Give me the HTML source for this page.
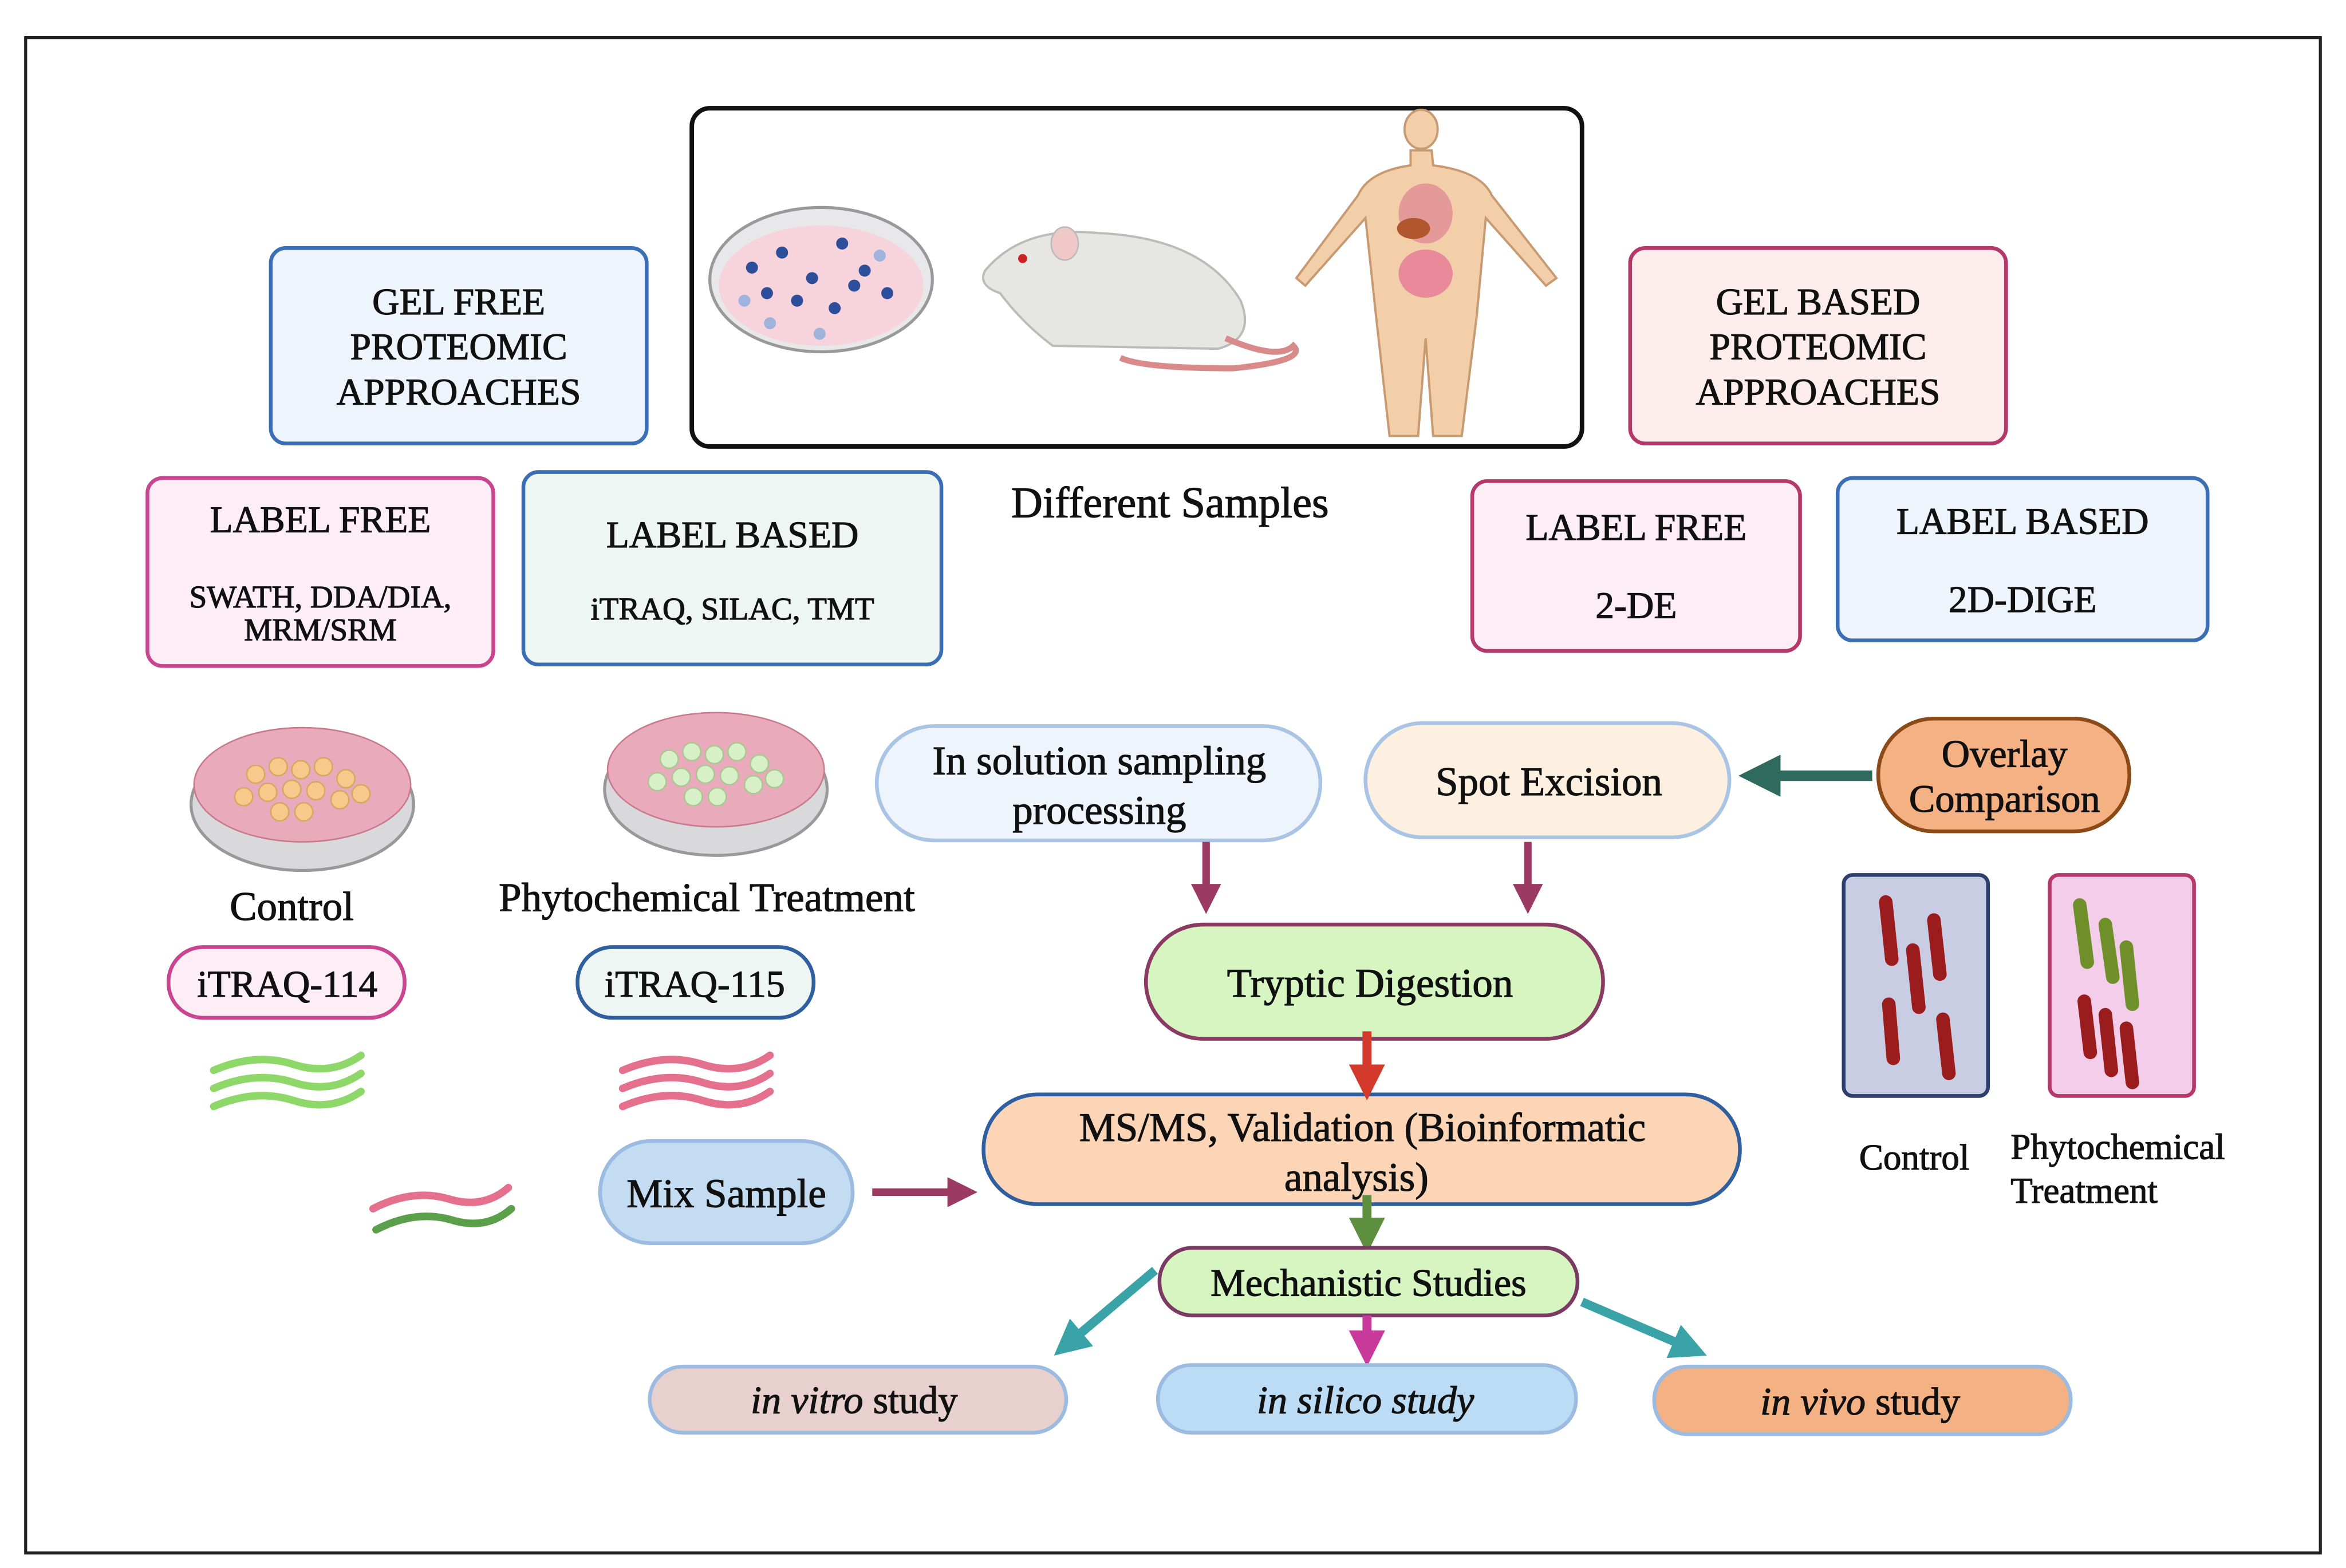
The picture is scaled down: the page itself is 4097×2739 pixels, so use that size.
<!DOCTYPE html>
<html><head><meta charset="utf-8"><style>
html,body{margin:0;padding:0;background:#fff;}
svg{display:block;}
text{font-family:"Liberation Serif",serif;fill:#111;stroke:#111;stroke-width:0.45;}
</style></head><body>
<svg width="4097" height="2739" viewBox="0 0 1560 1043" xmlns="http://www.w3.org/2000/svg">
<defs>
<marker id="a1" markerWidth="4" markerHeight="4" refX="2" refY="2" orient="auto" markerUnits="strokeWidth"><path d="M0,0 L4,2 L0,4 z" fill="#9b3a63"/></marker>
<marker id="a2" markerWidth="4" markerHeight="4" refX="2" refY="2" orient="auto" markerUnits="strokeWidth"><path d="M0,0 L4,2 L0,4 z" fill="#2e6b5e"/></marker>
<marker id="a3" markerWidth="4" markerHeight="4" refX="2" refY="2" orient="auto" markerUnits="strokeWidth"><path d="M0,0 L4,2 L0,4 z" fill="#d33a2c"/></marker>
<marker id="a4" markerWidth="4" markerHeight="4" refX="2" refY="2" orient="auto" markerUnits="strokeWidth"><path d="M0,0 L4,2 L0,4 z" fill="#5e8f3e"/></marker>
<marker id="a5" markerWidth="4" markerHeight="4" refX="2" refY="2" orient="auto" markerUnits="strokeWidth"><path d="M0,0 L4,2 L0,4 z" fill="#3aa3a8"/></marker>
<marker id="a6" markerWidth="4" markerHeight="4" refX="2" refY="2" orient="auto" markerUnits="strokeWidth"><path d="M0,0 L4,2 L0,4 z" fill="#c83a9a"/></marker>
</defs>
<rect x="0" y="0" width="1560" height="1043" fill="#fff"/>
<rect x="17" y="25" width="1526" height="1008" fill="none" stroke="#222" stroke-width="2"/>

<rect x="460" y="72" width="592" height="225" rx="12" fill="#fff" stroke="#111" stroke-width="3"/>
<ellipse cx="546" cy="186" rx="74" ry="48" fill="#e8e8ea" stroke="#999" stroke-width="2"/>
<ellipse cx="546" cy="190" rx="68" ry="40" fill="#f7d4dc"/>
<g fill="#2d4e9a">
<circle cx="500" cy="178" r="4"/><circle cx="520" cy="168" r="4"/><circle cx="540" cy="185" r="4"/><circle cx="560" cy="162" r="4"/><circle cx="575" cy="180" r="4"/><circle cx="530" cy="200" r="4"/><circle cx="555" cy="205" r="4"/><circle cx="590" cy="195" r="4"/><circle cx="510" cy="195" r="4"/><circle cx="568" cy="190" r="4"/>
</g>
<g fill="#9fb3dd"><circle cx="495" cy="200" r="4"/><circle cx="585" cy="170" r="4"/><circle cx="545" cy="222" r="4"/><circle cx="512" cy="215" r="4"/></g>
<path d="M655,180 Q680,150 730,155 Q800,158 825,200 Q835,225 810,232 L700,230 Q680,215 665,195 Q650,190 655,180 z" fill="#e6e6e3" stroke="#bbb" stroke-width="1.5"/>
<ellipse cx="708" cy="162" rx="9" ry="11" fill="#f0c8c8" stroke="#bbb"/>
<circle cx="680" cy="172" r="3" fill="#c22"/>
<path d="M815,225 Q850,240 860,230 Q870,240 820,245 Q760,245 745,238" fill="none" stroke="#d98b8b" stroke-width="4"/>
<g fill="#f2cfa8" stroke="#c79a72" stroke-width="1.5">
<ellipse cx="945" cy="86" rx="11" ry="13"/>
<path d="M938,100 L952,100 L953,110 Q985,114 992,130 L1035,185 L1028,190 L988,145 L982,210 L972,290 L953,290 L948,225 L943,290 L924,290 L915,210 L908,145 L868,190 L862,185 L903,130 Q910,114 938,110 z"/>
</g>
<ellipse cx="948" cy="142" rx="18" ry="20" fill="#e59a9a"/>
<ellipse cx="948" cy="182" rx="18" ry="16" fill="#e88a9a"/>
<ellipse cx="940" cy="152" rx="11" ry="7" fill="#b2562f"/>

<rect x="180" y="165" width="250" height="130" rx="10" fill="#eef4fb" stroke="#3a6fb5" stroke-width="2.5"/>
<text x="305" y="209" font-size="25" text-anchor="middle">GEL FREE</text>
<text x="305" y="239" font-size="25" text-anchor="middle">PROTEOMIC</text>
<text x="305" y="269" font-size="25" text-anchor="middle">APPROACHES</text>
<rect x="1084" y="165" width="250" height="130" rx="10" fill="#fcecec" stroke="#b5386b" stroke-width="2.5"/>
<text x="1209" y="209" font-size="25" text-anchor="middle">GEL BASED</text>
<text x="1209" y="239" font-size="25" text-anchor="middle">PROTEOMIC</text>
<text x="1209" y="269" font-size="25" text-anchor="middle">APPROACHES</text>

<rect x="98" y="318" width="230" height="125" rx="10" fill="#fdeef5" stroke="#c9458f" stroke-width="2.5"/>
<text x="213" y="354" font-size="25" text-anchor="middle">LABEL FREE</text>
<text x="213" y="404" font-size="21" text-anchor="middle">SWATH, DDA/DIA,</text>
<text x="213" y="426" font-size="21" text-anchor="middle">MRM/SRM</text>
<rect x="348" y="314" width="278" height="128" rx="10" fill="#eef6f4" stroke="#3a6fb5" stroke-width="2.5"/>
<text x="487" y="364" font-size="25" text-anchor="middle">LABEL BASED</text>
<text x="487" y="412" font-size="21" text-anchor="middle">iTRAQ, SILAC, TMT</text>
<text x="778" y="344" font-size="29" text-anchor="middle">Different Samples</text>
<rect x="979" y="320" width="218" height="113" rx="10" fill="#fdeef5" stroke="#b5386b" stroke-width="2.5"/>
<text x="1088" y="359" font-size="25" text-anchor="middle">LABEL FREE</text>
<text x="1088" y="411" font-size="25" text-anchor="middle">2-DE</text>
<rect x="1222" y="318" width="246" height="108" rx="10" fill="#eef4fb" stroke="#3a6fb5" stroke-width="2.5"/>
<text x="1345" y="355" font-size="25" text-anchor="middle">LABEL BASED</text>
<text x="1345" y="407" font-size="25" text-anchor="middle">2D-DIGE</text>

<g>
<ellipse cx="201" cy="535" rx="74" ry="44" fill="#d9d9dc" stroke="#999" stroke-width="2"/>
<ellipse cx="201" cy="522" rx="72" ry="38" fill="#e9aabb" stroke="#c97a8d"/>
<g fill="#f7c98a" stroke="#d9a860"><circle cx="170" cy="515" r="6"/><circle cx="185" cy="510" r="6"/><circle cx="200" cy="512" r="6"/><circle cx="215" cy="510" r="6"/><circle cx="230" cy="518" r="6"/><circle cx="178" cy="527" r="6"/><circle cx="194" cy="525" r="6"/><circle cx="210" cy="526" r="6"/><circle cx="226" cy="532" r="6"/><circle cx="186" cy="540" r="6"/><circle cx="202" cy="540" r="6"/><circle cx="240" cy="528" r="6"/><circle cx="162" cy="530" r="6"/></g>
</g>
<g>
<ellipse cx="476" cy="525" rx="74" ry="44" fill="#d9d9dc" stroke="#999" stroke-width="2"/>
<ellipse cx="476" cy="512" rx="72" ry="38" fill="#e9aabb" stroke="#c97a8d"/>
<g fill="#d8f0c8" stroke="#a8c890"><circle cx="445" cy="505" r="6"/><circle cx="460" cy="500" r="6"/><circle cx="475" cy="502" r="6"/><circle cx="490" cy="500" r="6"/><circle cx="505" cy="508" r="6"/><circle cx="453" cy="517" r="6"/><circle cx="469" cy="515" r="6"/><circle cx="485" cy="516" r="6"/><circle cx="501" cy="522" r="6"/><circle cx="461" cy="530" r="6"/><circle cx="477" cy="530" r="6"/><circle cx="515" cy="518" r="6"/><circle cx="437" cy="520" r="6"/></g>
</g>
<text x="194" y="612" font-size="27" text-anchor="middle">Control</text>
<text x="470" y="606" font-size="27" text-anchor="middle">Phytochemical Treatment</text>
<rect x="112" y="630" width="157" height="47" rx="23" fill="#fdeef5" stroke="#c9458f" stroke-width="2.5"/>
<text x="191" y="663" font-size="25" text-anchor="middle">iTRAQ-114</text>
<rect x="384" y="630" width="157" height="47" rx="23" fill="#eef6f4" stroke="#2f5f9e" stroke-width="2.5"/>
<text x="462" y="663" font-size="25" text-anchor="middle">iTRAQ-115</text>

<g fill="none" stroke-width="5" stroke-linecap="round">
<path d="M142,712 Q170,700 195,708 Q220,716 240,702" stroke="#8ed86a"/>
<path d="M142,724 Q170,712 195,720 Q220,728 240,714" stroke="#8ed86a"/>
<path d="M142,736 Q170,724 195,732 Q220,740 240,726" stroke="#8ed86a"/>
<path d="M414,712 Q442,700 467,708 Q492,716 512,702" stroke="#e5708e"/>
<path d="M414,724 Q442,712 467,720 Q492,728 512,714" stroke="#e5708e"/>
<path d="M414,736 Q442,724 467,732 Q492,740 512,726" stroke="#e5708e"/>
<path d="M248,804 Q275,790 300,798 Q322,804 338,790" stroke="#e5708e"/>
<path d="M250,818 Q277,804 302,812 Q324,818 340,804" stroke="#5aa04a"/>
</g>
<rect x="399" y="759" width="168" height="68" rx="34" fill="#c3dcf2" stroke="#9cbbe0" stroke-width="2.5"/>
<text x="483" y="803" font-size="27" text-anchor="middle">Mix Sample</text>
<line x1="580" y1="793" x2="640" y2="793" stroke="#9b3a63" stroke-width="5" marker-end="url(#a1)"/>

<rect x="583" y="483" width="295" height="76" rx="38" fill="#eef4fb" stroke="#a9c4e4" stroke-width="2.5"/>
<text x="731" y="515" font-size="27" text-anchor="middle">In solution sampling</text>
<text x="731" y="548" font-size="27" text-anchor="middle">processing</text>
<rect x="908" y="481" width="242" height="76" rx="38" fill="#fdf0e0" stroke="#a9c4e4" stroke-width="2.5"/>
<text x="1030" y="529" font-size="27" text-anchor="middle">Spot Excision</text>
<rect x="1249" y="478" width="167" height="75" rx="37" fill="#f4b183" stroke="#8b4a16" stroke-width="2.5"/>
<text x="1333" y="510" font-size="26" text-anchor="middle">Overlay</text>
<text x="1333" y="540" font-size="26" text-anchor="middle">Comparison</text>
<line x1="1245" y1="516" x2="1170" y2="516" stroke="#2e6b5e" stroke-width="7" marker-end="url(#a2)"/>
<line x1="802" y1="560" x2="802" y2="598" stroke="#9b3a63" stroke-width="5" marker-end="url(#a1)"/>
<line x1="1016" y1="560" x2="1016" y2="598" stroke="#9b3a63" stroke-width="5" marker-end="url(#a1)"/>
<rect x="762" y="615" width="304" height="76" rx="38" fill="#d6f5c0" stroke="#8a3a63" stroke-width="2.5"/>
<text x="911" y="663" font-size="27" text-anchor="middle">Tryptic Digestion</text>
<rect x="654" y="728" width="503" height="73" rx="36" fill="#fbd5b5" stroke="#2f5f9e" stroke-width="2.5"/>
<line x1="909" y1="686" x2="909" y2="720" stroke="#d33a2c" stroke-width="6" marker-end="url(#a3)"/>
<text x="906" y="759" font-size="27" text-anchor="middle">MS/MS, Validation (Bioinformatic</text>
<text x="902" y="792" font-size="27" text-anchor="middle">analysis)</text>
<line x1="909" y1="795" x2="909" y2="822" stroke="#5e8f3e" stroke-width="6" marker-end="url(#a4)"/>
<rect x="771" y="830" width="278" height="45" rx="22" fill="#d6f5c0" stroke="#7a3a63" stroke-width="2.5"/>
<text x="910" y="862" font-size="26" text-anchor="middle">Mechanistic Studies</text>
<line x1="768" y1="845" x2="710" y2="894" stroke="#3aa3a8" stroke-width="6" marker-end="url(#a5)"/>
<line x1="909" y1="875" x2="909" y2="897" stroke="#c83a9a" stroke-width="6" marker-end="url(#a6)"/>
<line x1="1052" y1="866" x2="1124" y2="897" stroke="#3aa3a8" stroke-width="6" marker-end="url(#a5)"/>
<rect x="432" y="909" width="277" height="44" rx="22" fill="#e8d0cf" stroke="#9cbbe0" stroke-width="2.5"/>
<text x="568" y="940" font-size="26" text-anchor="middle"><tspan font-style="italic">in vitro</tspan> study</text>
<rect x="770" y="908" width="278" height="45" rx="22" fill="#bcdcf5" stroke="#9cbbe0" stroke-width="2.5"/>
<text x="908" y="940" font-size="26" text-anchor="middle" font-style="italic">in silico study</text>
<rect x="1100" y="909" width="277" height="45" rx="22" fill="#f4b183" stroke="#9cbbe0" stroke-width="2.5"/>
<text x="1237" y="941" font-size="26" text-anchor="middle"><tspan font-style="italic">in vivo</tspan> study</text>

<rect x="1226" y="582" width="96" height="147" rx="6" fill="#c9cde3" stroke="#2e3f6e" stroke-width="2.5"/>
<g stroke="#9b1c1c" stroke-width="9" stroke-linecap="round">
<line x1="1254" y1="600" x2="1258" y2="638"/><line x1="1286" y1="612" x2="1290" y2="648"/><line x1="1272" y1="632" x2="1276" y2="670"/><line x1="1256" y1="668" x2="1259" y2="704"/><line x1="1292" y1="678" x2="1296" y2="714"/>
</g>
<rect x="1363" y="582" width="96" height="147" rx="6" fill="#f4cdea" stroke="#b5386b" stroke-width="2.5"/>
<g stroke-width="9" stroke-linecap="round">
<line x1="1383" y1="602" x2="1388" y2="640" stroke="#6f8f2a"/><line x1="1400" y1="615" x2="1405" y2="650" stroke="#6f8f2a"/><line x1="1414" y1="630" x2="1418" y2="668" stroke="#6f8f2a"/>
<line x1="1386" y1="666" x2="1390" y2="700" stroke="#9b1c1c"/><line x1="1400" y1="675" x2="1404" y2="712" stroke="#9b1c1c"/><line x1="1414" y1="684" x2="1418" y2="720" stroke="#9b1c1c"/>
</g>
<text x="1273" y="778" font-size="24" text-anchor="middle">Control</text>
<text x="1337" y="771" font-size="24">Phytochemical</text>
<text x="1337" y="800" font-size="24">Treatment</text>
</svg>
</body></html>
